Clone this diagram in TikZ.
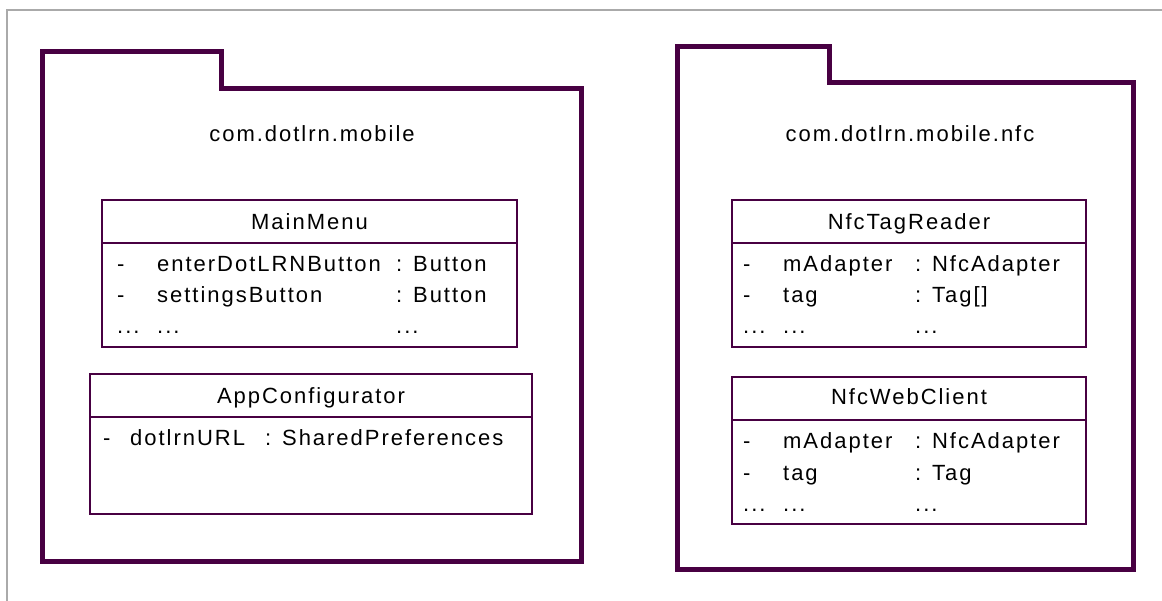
\documentclass[tikz,border=0pt]{standalone}
\usepackage{fontspec}
\setmainfont{Liberation Sans}[LetterSpace=9]
\definecolor{pkgpurple}{RGB}{72,0,66}
\definecolor{framegray}{RGB}{170,170,170}
\newcommand{\rowdots}{...}

\begin{document}
\begin{tikzpicture}[x=1pt, y=-1pt,
    pkg/.style={draw=pkgpurple, line width=5pt, line join=miter},
    classbox/.style={draw=pkgpurple, line width=2pt},
    txt/.style={inner sep=0pt, font=\fontsize{22}{26}\selectfont}]
    \useasboundingbox (0, 0) rectangle (1162, 601);
    \draw[framegray, line width=2pt] (7, 601) -- (7, 10) -- (1162, 10);

    % package com.dotlrn.mobile
    \draw[pkg] (42.5, 51.5) -- (221, 51.5) -- (221, 88.5) -- (581.5, 88.5) -- (581.5, 561.5) -- (42.5, 561.5) -- cycle;
    \node[txt, anchor=base] (mobile) at (312, 142) {com.dotlrn.mobile};

    \draw[classbox] (102, 200) rectangle (517, 347);
    \draw[classbox] (102, 243) -- (517, 243);
    \node[txt, anchor=base] (mainmenu) at (309.5, 230) {MainMenu};
    \foreach \v/\n/\t [count=\i] in {-/enterDotLRNButton/{: Button}, -/settingsButton/{: Button}, \rowdots/\rowdots/\rowdots} {
        \node[txt, anchor=base west] (mm-v-\i) at (117, {241 + 31*\i}) {\v};
        \node[txt, anchor=base west] (mm-n-\i) at (157, {241 + 31*\i}) {\n};
        \node[txt, anchor=base west] (mm-t-\i) at (396, {241 + 31*\i}) {\t};
    }

    \draw[classbox] (90, 374) rectangle (532, 514);
    \draw[classbox] (90, 417) -- (532, 417);
    \node[txt, anchor=base] (appconf) at (311, 403) {AppConfigurator};
    \node[txt, anchor=base west] (ac-v-1) at (103, 446) {-};
    \node[txt, anchor=base west] (ac-n-1) at (130, 446) {dotlrnURL};
    \node[txt, anchor=base west] (ac-t-1) at (265, 446) {: SharedPreferences};

    % package com.dotlrn.mobile.nfc
    \draw[pkg] (677.5, 46.5) -- (829.5, 46.5) -- (829.5, 83) -- (1133.5, 83) -- (1133.5, 569) -- (677.5, 569) -- cycle;
    \node[txt, anchor=base] (nfc) at (910, 142) {com.dotlrn.mobile.nfc};

    \draw[classbox] (732, 200) rectangle (1086, 347);
    \draw[classbox] (732, 243) -- (1086, 243);
    \node[txt, anchor=base] (tagreader) at (909, 230) {NfcTagReader};
    \foreach \v/\n/\t [count=\i] in {-/mAdapter/{: NfcAdapter}, -/tag/{: Tag[]}, \rowdots/\rowdots/\rowdots} {
        \node[txt, anchor=base west] (tr-v-\i) at (743, {241 + 31*\i}) {\v};
        \node[txt, anchor=base west] (tr-n-\i) at (783, {241 + 31*\i}) {\n};
        \node[txt, anchor=base west] (tr-t-\i) at (915, {241 + 31*\i}) {\t};
    }

    \draw[classbox] (732, 377) rectangle (1086, 524);
    \draw[classbox] (732, 420) -- (1086, 420);
    \node[txt, anchor=base] (webclient) at (909, 405) {NfcWebClient};
    \foreach \v/\n/\t [count=\i] in {-/mAdapter/{: NfcAdapter}, -/tag/{: Tag}, \rowdots/\rowdots/\rowdots} {
        \node[txt, anchor=base west] (wc-v-\i) at (743, {418 + 31*\i}) {\v};
        \node[txt, anchor=base west] (wc-n-\i) at (783, {418 + 31*\i}) {\n};
        \node[txt, anchor=base west] (wc-t-\i) at (915, {418 + 31*\i}) {\t};
    }
\end{tikzpicture}
\end{document}
